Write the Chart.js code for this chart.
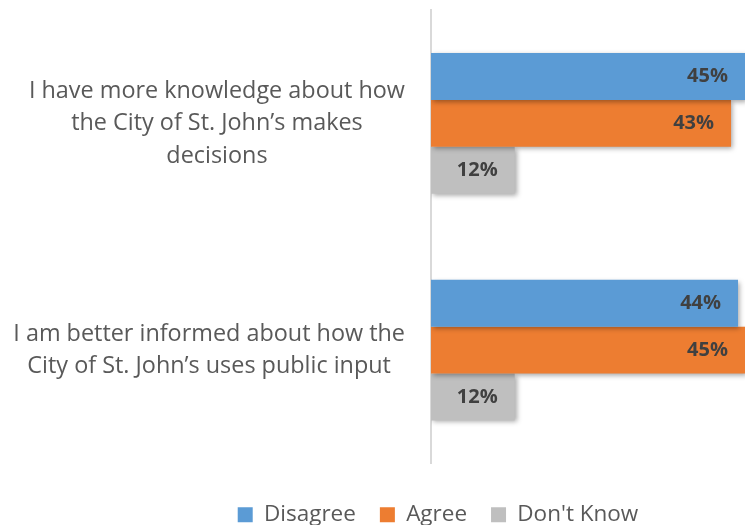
<!DOCTYPE html>
<html>
<head>
<meta charset="utf-8">
<script src="https://cdn.jsdelivr.net/npm/chart.js@4"></script>
<style>
  html, body { margin: 0; padding: 0; background: #ffffff; overflow: hidden; }
  #wrap { width: 745px; height: 525px; position: relative; }
</style>
</head>
<body>
<div id="wrap"><canvas id="c" width="745" height="525"></canvas></div>
<script>
const categories = [
  ["I have more knowledge about how", "the City of St. John\u2019s makes", "decisions"],
  ["I am better informed about how the", "City of St. John\u2019s uses public input"]
];
const seriesNames = ["Disagree", "Agree", "Don't Know"];
const disagree = [45, 44];
const agree = [43, 45];
const dontKnow = [12, 12];
const colors = ["#5B9BD5", "#ED7D31", "#BFBFBF"];

const FONT = "'Open Sans', 'DejaVu Sans', sans-serif";

const shadowPlugin = {
  id: 'barShadow',
  beforeDatasetsDraw(chart) {
    const ctx = chart.ctx;
    ctx.save();
    ctx.shadowColor = 'rgba(0,0,0,0.35)';
    ctx.shadowBlur = 5;
    ctx.shadowOffsetX = 2;
    ctx.shadowOffsetY = 2;
  },
  afterDatasetsDraw(chart) {
    chart.ctx.restore();
  }
};

const valueLabelPlugin = {
  id: 'valueLabels',
  afterDatasetsDraw(chart) {
    const ctx = chart.ctx;
    ctx.save();
    ctx.font = "bold 20px " + FONT;
    ctx.fillStyle = "#404040";
    ctx.textAlign = "right";
    ctx.textBaseline = "middle";
    chart.data.datasets.forEach((ds, di) => {
      const meta = chart.getDatasetMeta(di);
      meta.data.forEach((bar, i) => {
        ctx.fillText(ds.data[i] + "%", bar.x - 17, bar.y);
      });
    });
    ctx.restore();
  }
};

const catLabelPlugin = {
  id: 'catLabels',
  afterDraw(chart) {
    const ctx = chart.ctx;
    const yScale = chart.scales.y;
    ctx.save();
    ctx.font = "23.4px " + FONT;
    ctx.fillStyle = "#595959";
    ctx.textAlign = "center";
    ctx.textBaseline = "middle";
    const lineH = 32.5;
    const rightEdge = chart.chartArea.left - 26;
    categories.forEach((lines, i) => {
      const yc = yScale.getPixelForValue(i);
      const maxW = Math.max(...lines.map(l => ctx.measureText(l).width));
      const cx = rightEdge - maxW / 2;
      const y0 = yc - (lines.length - 1) * lineH / 2;
      lines.forEach((l, k) => ctx.fillText(l, cx, y0 + k * lineH));
    });
    ctx.restore();
  }
};

new Chart(document.getElementById('c'), {
  type: 'bar',
  data: {
    labels: categories.map(c => c.join(' ')),
    datasets: [
      { label: seriesNames[0], data: disagree, backgroundColor: colors[0] },
      { label: seriesNames[1], data: agree, backgroundColor: colors[1] },
      { label: seriesNames[2], data: dontKnow, backgroundColor: colors[2] }
    ]
  },
  options: {
    indexAxis: 'y',
    responsive: false,
    animation: false,
    devicePixelRatio: 1,
    layout: { padding: { top: 10, right: 0, bottom: -11, left: 131 } },
    datasets: { bar: { categoryPercentage: 0.62, barPercentage: 1.0 } },
    scales: {
      x: {
        display: true, min: 0, max: 45,
        afterFit(s) { s.height = 16; },
        grid: { display: false },
        border: { display: false },
        ticks: { display: false }
      },
      y: {
        afterFit(s) { s.width = 300; },
        grid: { display: false },
        border: { display: true, color: '#D9D9D9', width: 2 },
        ticks: { display: false }
      }
    },
    plugins: {
      legend: {
        position: 'bottom',
        labels: {
          font: { family: FONT, size: 22.5 },
          color: '#595959',
          boxWidth: 15,
          boxHeight: 15,
          padding: 24
        }
      },
      tooltip: { enabled: false }
    }
  },
  plugins: [shadowPlugin, valueLabelPlugin, catLabelPlugin]
});
</script>
</body>
</html>
